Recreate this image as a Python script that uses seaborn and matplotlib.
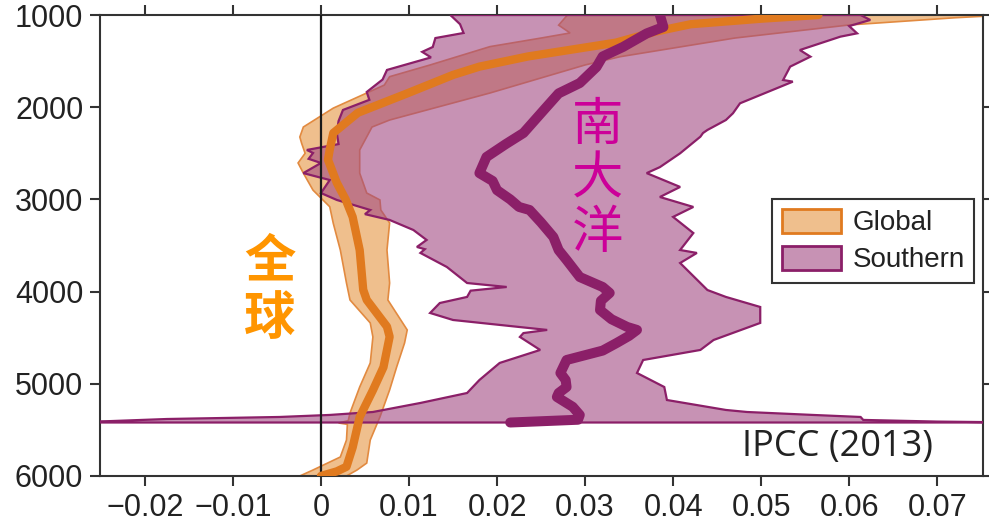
import matplotlib
matplotlib.use("Agg")
import matplotlib.pyplot as plt
from matplotlib.patches import Patch
import seaborn as sns
import numpy as np

# depth (m) and value profiles
glob_mean_d = [1000, 1040, 1100, 1180, 1300, 1450, 1560, 1650, 1850, 2060, 2280, 2460, 2570,
               2820, 3000, 3190, 3550, 3980, 4090, 4380, 4490, 4820, 5070, 5360, 5690, 5900,
               5950, 6000]
glob_mean_x = [0.0565, 0.050, 0.042, 0.038, 0.0335, 0.0235, 0.018, 0.015, 0.0098, 0.0042,
               0.0014, 0.0010, 0.0008, 0.0018, 0.0028, 0.0036, 0.0044, 0.0048, 0.0052, 0.0075,
               0.0078, 0.0071, 0.0059, 0.0044, 0.0036, 0.0029, 0.0018, 0.0]

glob_lo_d = [1000, 1110, 1195, 1250, 1343, 1542, 1669, 1760, 1846, 2010, 2215, 2323, 2390,
             2500, 2605, 2715, 2900, 3080, 3260, 3549, 3907, 4091, 4340, 4492, 4774, 5035,
             5317, 5400, 5425, 5440, 5610, 5794, 5935, 6000]
glob_lo_x = [0.028, 0.027, 0.0283, 0.025, 0.0192, 0.0124, 0.0078, 0.0072, 0.0052, 0.0014,
             -0.0020, -0.0024, -0.0022, -0.0018, -0.0026, -0.0020, -0.0009, 0.0010, 0.0014,
             0.0022, 0.0029, 0.0033, 0.0056, 0.0059, 0.0056, 0.0044, 0.0033, 0.0031, 0.0020,
             0.0030, 0.0029, 0.0022, -0.0009, -0.0024]

glob_hi_d = [1000, 1030, 1108, 1250, 1452, 1542, 1846, 2139, 2215, 2464, 2715, 2931, 3006,
             3115, 3255, 3549, 3907, 4091, 4416, 4557, 4818, 5067, 5360, 5610, 5860, 5935,
             6000]
glob_hi_x = [0.078, 0.072, 0.060, 0.047, 0.034, 0.030, 0.0192, 0.0078, 0.0058, 0.0044,
             0.0044, 0.0052, 0.0067, 0.0068, 0.0078, 0.0075, 0.0078, 0.0076, 0.0098, 0.0095,
             0.0086, 0.0078, 0.0067, 0.0056, 0.0052, 0.0041, 0.0029]

south_mean_d = [1000, 1130, 1200, 1347, 1450, 1564, 1738, 1850, 2000, 2280, 2400, 2540, 2715,
                2800, 2900, 3000, 3082, 3115, 3250, 3408, 3550, 3657, 3842, 3950, 4015, 4100,
                4200, 4300, 4384, 4416, 4480, 4557, 4640, 4742, 4883, 4960, 5035, 5100, 5143,
                5250, 5338, 5390, 5420]
south_mean_x = [0.0385, 0.0389, 0.037, 0.0343, 0.032, 0.0313, 0.0294, 0.027, 0.0256, 0.023,
                0.021, 0.0188, 0.0180, 0.0195, 0.0200, 0.0215, 0.0225, 0.0237, 0.025, 0.0264,
                0.027, 0.0279, 0.0294, 0.0320, 0.0328, 0.0318, 0.0317, 0.033, 0.0348, 0.0359,
                0.035, 0.0336, 0.032, 0.0279, 0.0272, 0.0278, 0.0279, 0.027, 0.0268, 0.0286,
                0.0294, 0.0292, 0.0215]

south_lo_d = [1000, 1100, 1195, 1250, 1347, 1400, 1460, 1596, 1700, 1760, 1835, 1920, 2030,
              2150, 2280, 2400, 2432, 2464, 2497, 2560, 2605, 2715, 2790, 2931, 3006, 3115,
              3160, 3223, 3332, 3440, 3516, 3540, 3581, 3733, 3907, 3950, 3990, 4058, 4124,
              4232, 4308, 4416, 4450, 4492, 4633, 4774, 4959, 5100, 5208, 5306, 5338, 5360,
              5382, 5405, 5420]
south_lo_x = [0.0147, 0.0158, 0.0162, 0.0130, 0.0127, 0.0115, 0.0125, 0.0075, 0.0070, 0.0062,
              0.0052, 0.0055, 0.0025, 0.0020, 0.0018, 0.0020, 0.0002, -0.0016, -0.0009,
              -0.0014, 0.0000, -0.0020, 0.0010, 0.0000, 0.0018, 0.0056, 0.0050, 0.0078,
              0.0105, 0.0120, 0.0109, 0.0118, 0.0113, 0.0143, 0.0166, 0.0211, 0.0170, 0.0166,
              0.0135, 0.0124, 0.0150, 0.0257, 0.0230, 0.0226, 0.0249, 0.0203, 0.0180, 0.0166,
              0.0113, 0.0059, 0.0010, -0.0047, -0.0175, -0.0240, -0.0300]

south_hi_d = [1000, 1054, 1120, 1199, 1235, 1380, 1452, 1560, 1705, 1723, 1778, 1958, 2066,
              2139, 2247, 2280, 2320, 2500, 2650, 2715, 2865, 2974, 3082, 3190, 3365, 3549,
              3581, 3690, 3983, 4058, 4167, 4340, 4525, 4633, 4742, 4883, 5035, 5176, 5284,
              5306, 5338, 5360, 5392, 5410, 5420]
south_hi_x = [0.0613, 0.0624, 0.0600, 0.0609, 0.0590, 0.0544, 0.0556, 0.0533, 0.0525, 0.0536,
              0.0522, 0.0476, 0.0468, 0.0460, 0.0439, 0.0434, 0.0431, 0.0408, 0.0385, 0.0370,
              0.0408, 0.0385, 0.0423, 0.0400, 0.0423, 0.0408, 0.0427, 0.0408, 0.0439, 0.0460,
              0.0499, 0.0499, 0.0446, 0.0431, 0.0366, 0.0359, 0.0390, 0.0393, 0.0460, 0.0484,
              0.0559, 0.0613, 0.0616, 0.0700, 0.0800]

x_ticks = [-0.02, -0.01, 0, 0.01, 0.02, 0.03, 0.04, 0.05, 0.06, 0.07]
x_tick_labels = ["\u22120.02", "\u22120.01", "0", "0.01", "0.02", "0.03", "0.04", "0.05",
                 "0.06", "0.07"]
y_ticks = [1000, 2000, 3000, 4000, 5000, 6000]
series_names = ["Global", "Southern"]

orange = "#e07a1f"
orange_fill = "#efbf8d"
purple = "#8b1f68"
purple_fill = "#a24982"

sns.set_style("ticks")
plt.rcParams["font.family"] = ["Liberation Sans", "DejaVu Sans"]

fig = plt.figure(figsize=(9.89, 5.32), dpi=100)
ax = fig.add_axes([0.1011, 0.1053, 0.8928, 0.8665])


def band(lo_x, lo_d, hi_x, hi_d):
    return (np.r_[lo_x, hi_x[::-1]], np.r_[lo_d, hi_d[::-1]])


gx, gd = band(glob_lo_x, glob_lo_d, glob_hi_x, glob_hi_d)
sx, sd = band(south_lo_x, south_lo_d, south_hi_x, south_hi_d)

ax.fill(gx, gd, facecolor=orange_fill, edgecolor="#e28a40", linewidth=1.2, zorder=1)
ax.fill(sx, sd, facecolor=purple_fill, alpha=0.6, edgecolor="none", zorder=2)
ax.fill(sx, sd, fill=False, edgecolor=purple, linewidth=1.6, zorder=3)

ax.axvline(0, color="#1a1a1a", linewidth=1.6, zorder=3.5)

sns.lineplot(x=glob_mean_x, y=glob_mean_d, sort=False, estimator=None, color=orange,
             linewidth=6, ax=ax, zorder=4, legend=False)
sns.lineplot(x=south_mean_x, y=south_mean_d, sort=False, estimator=None, color=purple,
             linewidth=7.2, ax=ax, zorder=5, legend=False)

ax.set_xlim(-0.0251, 0.0752)
ax.set_ylim(6000, 1000)
ax.set_xticks(x_ticks)
ax.set_xticklabels(x_tick_labels)
ax.set_yticks(y_ticks)
ax.set_xlabel("")
ax.set_ylabel("")
ax.tick_params(axis="both", direction="out", length=7, width=1.5, color="#333333",
               labelsize=22, labelcolor="#222222", pad=5,
               top=True, right=True, labeltop=False, labelright=False)
for sp in ax.spines.values():
    sp.set_visible(True)
    sp.set_linewidth(1.5)
    sp.set_color("#333333")

handles = [Patch(facecolor=orange_fill, edgecolor=orange, linewidth=2),
           Patch(facecolor="#c792b4", edgecolor=purple, linewidth=2)]
leg = ax.legend(handles, series_names, loc="upper left", bbox_to_anchor=(0.761, 0.601),
                borderaxespad=0, fontsize=20, handlelength=2.15, handleheight=0.95,
                labelspacing=0.35, handletextpad=0.4, borderpad=0.35, fancybox=False,
                framealpha=1, edgecolor="#333333", labelcolor="#222222")
leg.get_frame().set_linewidth(1.5)

for ch, y in zip("全球", [0.466, 0.342]):
    ax.text(0.1925, y, ch, transform=ax.transAxes, ha="center", va="center",
            fontsize=37, color="#ff9500", fontweight="bold",
            family=["Noto Sans CJK SC", "DejaVu Sans"], zorder=6)
for ch, y in zip("南大洋", [0.762, 0.644, 0.527]):
    ax.text(0.563, y, ch, transform=ax.transAxes, ha="center", va="center",
            fontsize=37, color="#cc0099", family=["Noto Sans CJK SC", "DejaVu Sans"], zorder=6)

ax.text(0.835, 0.063, "IPCC (2013)", transform=ax.transAxes, ha="center", va="center",
        fontsize=26, color="#222222", family=["Open Sans", "DejaVu Sans"], zorder=6)

fig.savefig("out.png", dpi=100)
